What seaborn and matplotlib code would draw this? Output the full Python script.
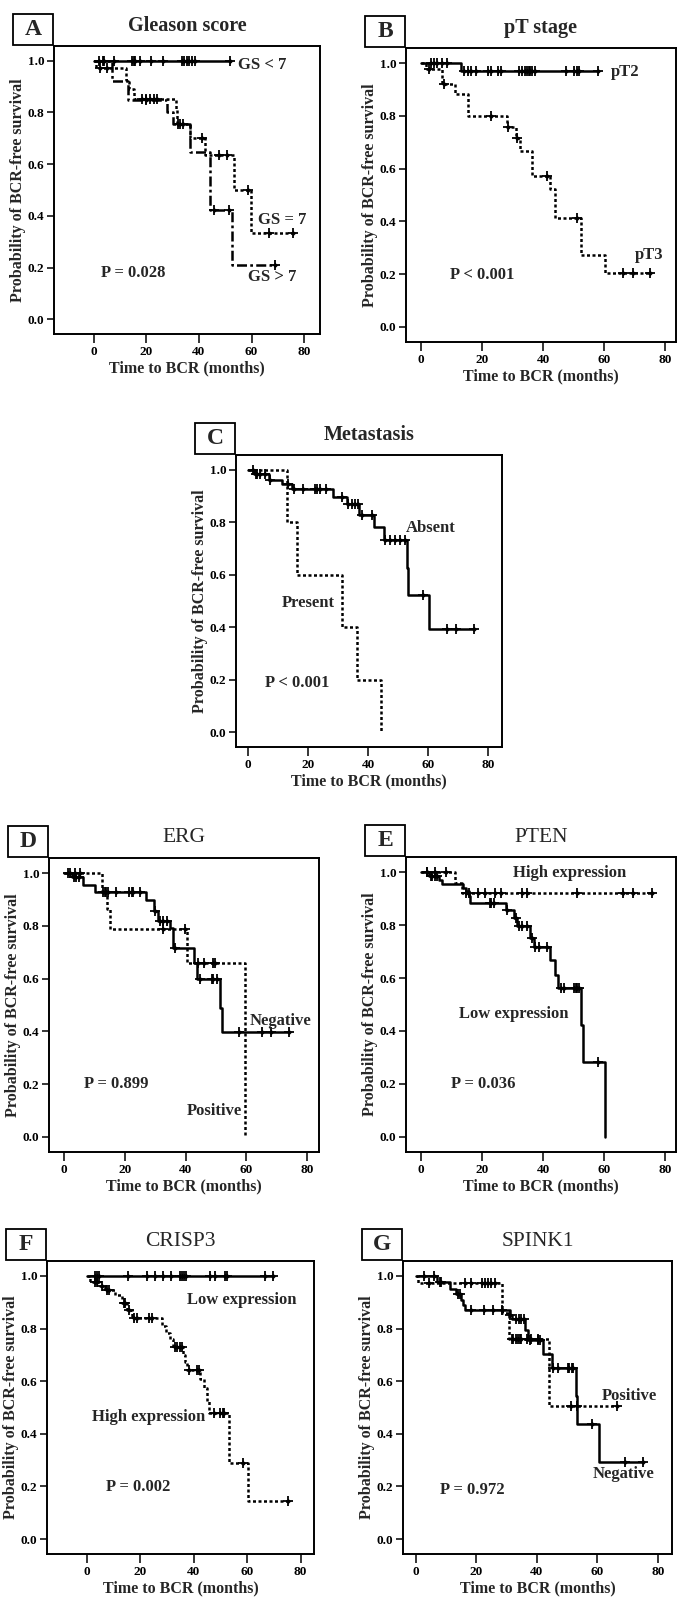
import matplotlib
matplotlib.use("Agg")
import matplotlib.pyplot as plt
import pandas as pd
import seaborn as sns
from matplotlib.patches import Rectangle

# values (months / BCR-free probability)
# A - Gleason score
GS_LT7_T = []
GS_LT7_S = []
GS_LT7_C = [2, 4, 7.7, 14.7, 15.3, 15.8, 17.8, 21.9, 26.3, 33.6, 34.5, 35.5, 36.4, 37.4, 38.4, 51.7]
GS_EQ7_T = [1, 12.4, 13.4, 15.3, 31.3, 31.8, 36.8, 42.5, 53.2, 59.8]
GS_EQ7_S = [0.97, 0.927, 0.89, 0.853, 0.815, 0.757, 0.70, 0.635, 0.50, 0.333]
GS_EQ7_C = [2.5, 5, 18.5, 20, 21.5, 23, 24, 33, 41.2, 47.5, 50.7, 58.5, 66.5, 75.6]
GS_GT7_T = [7, 13.1, 27.9, 30, 36.8, 44.4, 52.6]
GS_GT7_S = [0.923, 0.85, 0.80, 0.755, 0.646, 0.423, 0.21]
GS_GT7_C = [3.5, 20, 32, 34, 45.6, 51.3, 69]

# B - pT stage
PT2_T = [13.0]
PT2_S = [0.968]
PT2_C = [3.05, 4.2, 5.3, 6.9, 8.3, 14.1, 15.2, 16.3, 18.0, 21.9, 23.0, 25.2, 26.3, 31.9, 33,
         34.1, 34.6, 35.2, 35.7, 36.3, 37.4, 47.4, 50.1, 51.2, 51.8, 57.9]
PT3_T = [1.5, 6.9, 11.1, 15.2, 28, 31, 32.4, 36.3, 42.2, 43.7, 52.4, 60.1]
PT3_S = [0.978, 0.921, 0.881, 0.80, 0.758, 0.715, 0.667, 0.572, 0.521, 0.413, 0.273, 0.203]
PT3_C = [2.5, 7.5, 23.0, 28.5, 31.3, 41.3, 51.2, 66.2, 69.5, 75.1]

# C - metastasis
ABSENT_T = [2, 7, 11.1, 14.5, 28.3, 32.8, 37, 41.9, 45.2, 53, 53.3, 60.3]
ABSENT_S = [0.985, 0.962, 0.946, 0.928, 0.896, 0.871, 0.829, 0.781, 0.732, 0.627, 0.522, 0.395]
ABSENT_C = [1.5, 2.5, 3, 4, 5.5, 7.3, 13.3, 15.2, 18.3, 22.2, 23, 23.9, 25.9, 31.1, 33.3, 34.5,
            35.6, 36.7, 37.8, 41.1, 45.6, 47.2, 48.9, 50.6, 52.2, 58.3, 66.1, 69.2, 75.2]
PRESENT_T = [13, 16.1, 31.3, 36.1, 44.1]
PRESENT_S = [0.80, 0.60, 0.40, 0.20, 0.0]
PRESENT_C = []

# D - ERG
ERG_NEG_T = [2.5, 6.4, 10.2, 26.9, 29.6, 31, 34.9, 35.9, 42.9, 43.8, 51.3, 51.9]
ERG_NEG_S = [0.985, 0.953, 0.928, 0.896, 0.858, 0.82, 0.79, 0.715, 0.658, 0.597, 0.49, 0.399]
ERG_NEG_C = [1.5, 3.2, 4, 5, 13.8, 14.6, 17.2, 21.5, 22.3, 22.8, 25, 30, 31.6, 32.7, 33.8, 36.4,
             44.7, 48.6, 49.1, 50.2, 57.5, 65, 68, 74]
ERG_POS_T = [12.4, 14.2, 15.1, 40.6, 59.5]
ERG_POS_S = [0.93, 0.863, 0.789, 0.66, 0.0]
ERG_POS_C = [2, 3.6, 5.3, 13, 13.5, 32.7, 39.8, 44.2, 46, 48.9, 49.7]

# E - PTEN
PTEN_LOW_T = [2.5, 5.8, 6.9, 13.6, 14.7, 15.6, 16, 27.8, 30.4, 31.5, 35.7, 36.8, 42.2, 43.7,
              44.8, 52.4, 52.9, 60.1]
PTEN_LOW_S = [0.985, 0.971, 0.956, 0.939, 0.927, 0.908, 0.882, 0.857, 0.825, 0.797, 0.753,
              0.718, 0.667, 0.61, 0.563, 0.424, 0.281, 0.0]
PTEN_LOW_C = [1.95, 3.05, 3.6, 4.5, 5.3, 22.4, 23, 23.8, 28, 31, 32.2, 33, 34.6, 36.2, 37.4,
              38.5, 41.3, 45.9, 46.8, 50.1, 50.7, 51.2, 51.8, 57.9]
PTEN_HIGH_T = [11.1, 13.5]
PTEN_HIGH_S = [0.96, 0.92]
PTEN_HIGH_C = [1.95, 4.5, 8, 14.7, 15.8, 18.6, 20.8, 24.1, 26.3, 33, 34.6, 51.2, 66.2, 69.5, 75.6]

# F - CRISP3
CRISP3_LOW_T = []
CRISP3_LOW_S = []
CRISP3_LOW_C = [3, 3.8, 4.3, 15.5, 22.3, 25.3, 28.3, 31.4, 34.8, 35.6, 36.4, 37.2, 46.2, 47.8,
                51.5, 52.3, 66.5, 69.8]
CRISP3_HIGH_T = [1.2, 5, 6.9, 10.6, 13.1, 15, 16.8, 28, 29.7, 31, 32.1, 35.9, 36.8, 37.6, 42.4,
                 43.9, 44.9, 45.5, 53, 60.1]
CRISP3_HIGH_S = [0.977, 0.961, 0.946, 0.927, 0.898, 0.872, 0.84, 0.81, 0.785, 0.76, 0.731, 0.70,
                 0.674, 0.642, 0.61, 0.575, 0.526, 0.478, 0.288, 0.143]
CRISP3_HIGH_C = [3.1, 3.7, 5.6, 7.5, 8.1, 13.7, 14.3, 15.6, 17.4, 18.7, 23.1, 24.3, 33, 33.6, 34.9,
                 35.5, 38, 41.1, 42.1, 47.4, 49.8, 50.8, 51.3, 58.3, 75.4]

# G - SPINK1
SPINK1_NEG_T = [7, 11.4, 13.3, 15, 15.5, 16.3, 31, 31.9, 36, 36.9, 42.1, 45.1, 52.9, 53.2, 60.4]
SPINK1_NEG_S = [0.977, 0.952, 0.93, 0.908, 0.889, 0.87, 0.853, 0.838, 0.796, 0.756, 0.705, 0.652,
                0.544, 0.437, 0.291]
SPINK1_NEG_C = [2.8, 6.1, 7.8, 8.3, 13.9, 14.4, 18.1, 22.5, 25.5, 28.5, 31.2, 33.2, 34.1, 34.9,
                35.7, 37.7, 40.4, 41, 45.4, 47.1, 50.2, 50.6, 51.5, 52.1, 58.2, 69.3, 75.1]
SPINK1_POS_T = [0.5, 28.3, 30.7, 44]
SPINK1_POS_S = [0.973, 0.86, 0.759, 0.505]
SPINK1_POS_C = [4.4, 16.1, 18.1, 21.9, 22.8, 23.7, 24.7, 26.1, 31.6, 32.1, 33.2, 33.8, 34.3, 34.9,
                36.6, 38.2, 40.4, 51.3, 53.2, 66.5]

X_TICKS = [0, 20, 40, 60, 80]
Y_TICKS = [0.0, 0.2, 0.4, 0.6, 0.8, 1.0]

SOLID = "-"
DOTTED = (0, (1.2, 1.0))
DASHDOT = (0, (4.0, 1.3, 1.1, 1.3))

W, H = 688, 1609


def km_frame(times, surv, censor):
    end = max(list(times) + list(censor))
    last = surv[-1] if surv else 1.0
    return pd.DataFrame({"t": [0.0] + list(times) + [end],
                         "s": [1.0] + list(surv) + [last]})


def censor_frame(times, surv, censor):
    levels = []
    for c in censor:
        level = 1.0
        for t, s in zip(times, surv):
            if t <= c:
                level = s
        levels.append(level)
    return pd.DataFrame({"t": censor, "s": levels})


def draw_curve(ax, times, surv, censor, ls):
    sns.lineplot(data=km_frame(times, surv, censor), x="t", y="s", estimator=None, sort=False,
                 drawstyle="steps-post", color="black", linewidth=1.8, linestyle=ls, ax=ax)
    if censor:
        marks = censor_frame(times, surv, censor)
        # SPSS style censor tick: a plus with a small diamond at its centre
        sns.scatterplot(data=marks, x="t", y="s", marker="+", s=42, color="black",
                        linewidth=1.3, ax=ax, zorder=3)
        sns.scatterplot(data=marks, x="t", y="s", marker="D", s=7, color="black",
                        linewidth=0, ax=ax, zorder=3)


def make_axes(fig, rect):
    left, top, right, bottom = rect
    return fig.add_axes([left / W, 1 - bottom / H, (right - left) / W, (bottom - top) / H])


def decorate(fig, ax, rect, letter, title, bold_title, xlim):
    left, top, right, bottom = rect
    ax.set_xlim(*xlim)
    ax.set_ylim(-0.057, 1.057)
    ax.set_xticks(X_TICKS)
    ax.set_yticks(Y_TICKS)
    ax.set_yticklabels([f"{v:.1f}" for v in Y_TICKS])
    ax.tick_params(axis="x", length=6.5, width=1.1, pad=2, labelsize=9.5)
    ax.tick_params(axis="y", length=5, width=1.1, pad=2, labelsize=9.5)
    ax.set_xlabel("Time to BCR (months)", fontsize=11.5, fontweight="bold", labelpad=2)
    ax.set_ylabel("Probability of BCR-free survival", fontsize=11.5, fontweight="bold", labelpad=1)
    for sp in ax.spines.values():
        sp.set_visible(True)
        sp.set_linewidth(1.4)
        sp.set_color("black")

    fig.text((left + right) / 2 / W, 1 - (top - 20) / H, title, ha="center", va="center",
             fontsize=14.5 if bold_title else 15.5,
             fontweight="bold" if bold_title else "normal")

    bw, bh = 40, 31
    bx0, by1 = left - 1 - bw, top - 1
    fig.patches.append(Rectangle((bx0 / W, 1 - by1 / H), bw / W, bh / H, transform=fig.transFigure,
                                 fill=False, edgecolor="black", linewidth=1.3))
    fig.text((bx0 + bw / 2) / W, 1 - (by1 - bh / 2) / H, letter, ha="center", va="center",
             fontsize=17, fontweight="bold")


def note(ax, x, y, text, ha="left"):
    ax.text(x, y, text, ha=ha, va="center", fontsize=12, fontweight="bold")


sns.set_theme(style="ticks")
plt.rcParams["font.family"] = ["Liberation Serif", "DejaVu Serif"]
plt.rcParams["font.weight"] = "bold"
plt.rcParams["axes.labelweight"] = "bold"
plt.rcParams["xtick.color"] = "black"
plt.rcParams["ytick.color"] = "black"

fig = plt.figure(figsize=(W / 100, H / 100), dpi=100)
fig.patch.set_facecolor("white")

# A
rect = (54, 46, 320, 334)
ax = make_axes(fig, rect)
draw_curve(ax, GS_LT7_T, GS_LT7_S, GS_LT7_C, SOLID)
draw_curve(ax, GS_EQ7_T, GS_EQ7_S, GS_EQ7_C, DOTTED)
draw_curve(ax, GS_GT7_T, GS_GT7_S, GS_GT7_C, DASHDOT)
decorate(fig, ax, rect, "A", "Gleason score", True, (-15, 86))
note(ax, 55, 0.985, "GS < 7")
note(ax, 62.5, 0.385, "GS = 7")
note(ax, 58.5, 0.165, "GS > 7")
note(ax, 2.7, 0.18, "P = 0.028")

# B
rect = (406, 48, 676, 342)
ax = make_axes(fig, rect)
draw_curve(ax, PT2_T, PT2_S, PT2_C, SOLID)
draw_curve(ax, PT3_T, PT3_S, PT3_C, DOTTED)
decorate(fig, ax, rect, "B", "pT stage", True, (-5, 83.5))
note(ax, 62, 0.965, "pT2")
note(ax, 70, 0.272, "pT3")
note(ax, 9.5, 0.195, "P < 0.001")

# C
rect = (236, 455, 502, 747)
ax = make_axes(fig, rect)
draw_curve(ax, ABSENT_T, ABSENT_S, ABSENT_C, SOLID)
draw_curve(ax, PRESENT_T, PRESENT_S, PRESENT_C, DOTTED)
decorate(fig, ax, rect, "C", "Metastasis", True, (-4.1, 84.6))
note(ax, 52.6, 0.78, "Absent")
note(ax, 11.1, 0.494, "Present")
note(ax, 5.6, 0.187, "P < 0.001")

# D
rect = (49, 858, 319, 1152)
ax = make_axes(fig, rect)
draw_curve(ax, ERG_NEG_T, ERG_NEG_S, ERG_NEG_C, SOLID)
draw_curve(ax, ERG_POS_T, ERG_POS_S, ERG_POS_C, DOTTED)
decorate(fig, ax, rect, "D", "ERG", False, (-4.9, 83.9))
note(ax, 61.2, 0.44, "Negative")
note(ax, 58.5, 0.1, "Positive", ha="right")
note(ax, 6.5, 0.2, "P = 0.899")

# E
rect = (406, 857, 676, 1152)
ax = make_axes(fig, rect)
draw_curve(ax, PTEN_LOW_T, PTEN_LOW_S, PTEN_LOW_C, SOLID)
draw_curve(ax, PTEN_HIGH_T, PTEN_HIGH_S, PTEN_HIGH_C, DOTTED)
decorate(fig, ax, rect, "E", "PTEN", False, (-5, 83.5))
note(ax, 30.2, 0.995, "High expression")
note(ax, 12.5, 0.465, "Low expression")
note(ax, 9.7, 0.2, "P = 0.036")

# F
rect = (47, 1261, 314, 1554)
ax = make_axes(fig, rect)
draw_curve(ax, CRISP3_LOW_T, CRISP3_LOW_S, CRISP3_LOW_C, SOLID)
draw_curve(ax, CRISP3_HIGH_T, CRISP3_HIGH_S, CRISP3_HIGH_C, DOTTED)
decorate(fig, ax, rect, "F", "CRISP3", False, (-15, 85))
note(ax, 37.4, 0.91, "Low expression")
note(ax, 1.9, 0.465, "High expression")
note(ax, 7.2, 0.197, "P = 0.002")

# G
rect = (403, 1261, 672, 1554)
ax = make_axes(fig, rect)
draw_curve(ax, SPINK1_NEG_T, SPINK1_NEG_S, SPINK1_NEG_C, SOLID)
draw_curve(ax, SPINK1_POS_T, SPINK1_POS_S, SPINK1_POS_C, DOTTED)
decorate(fig, ax, rect, "G", "SPINK1", False, (-4.3, 84.7))
note(ax, 61.5, 0.544, "Positive")
note(ax, 58.4, 0.248, "Negative")
note(ax, 8.1, 0.187, "P = 0.972")

fig.savefig("out.png", dpi=100, facecolor="white")
